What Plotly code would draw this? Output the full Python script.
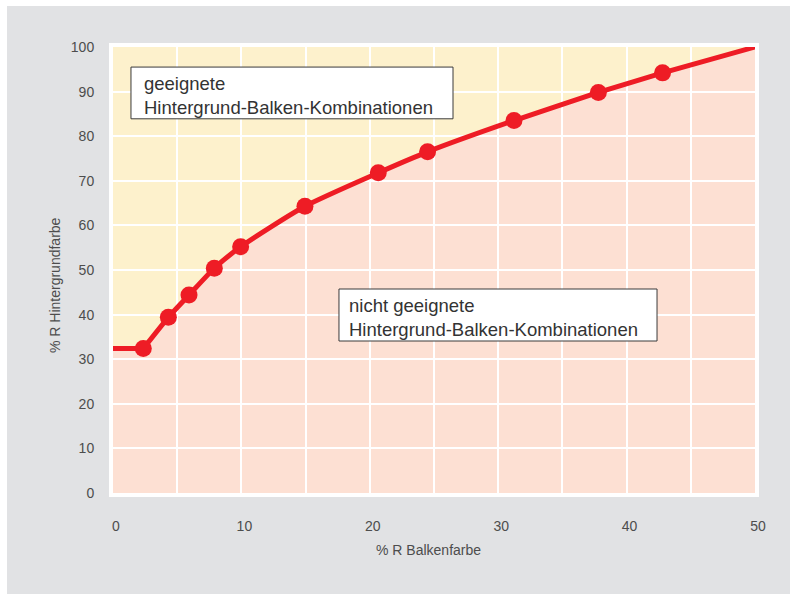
import plotly.graph_objects as go

# --- data ---
curve_x = [0, 2.36, 4.31, 5.92, 7.89, 9.94, 14.95, 20.66, 24.5, 31.23, 37.8, 42.8, 50]
curve_y = [32.4, 32.4, 39.4, 44.4, 50.4, 55.2, 64.3, 71.8, 76.5, 83.5, 89.8, 94.2, 100]
point_x = curve_x[1:-1]
point_y = curve_y[1:-1]
x_ticks = [0, 10, 20, 30, 40, 50]
y_ticks = [0, 10, 20, 30, 40, 50, 60, 70, 80, 90, 100]
label_good = "geeignete<br>Hintergrund-Balken-Kombinationen"
label_bad = "nicht geeignete<br>Hintergrund-Balken-Kombinationen"
x_title = "% R Balkenfarbe"
y_title = "% R Hintergrundfarbe"

RED = "#ee1c25"
YELLOW = "#fdf1cc"
PINK = "#fde0d3"
GRAY = "#e1e2e4"
TXT = "#4d4d4d"
FONT = "Liberation Sans, Arial, sans-serif"

# yellow region above the curve
path = "M " + " L ".join(f"{x},{y}" for x, y in zip(curve_x, curve_y))
path += f" L {curve_x[0]},{max(y_ticks)} Z"

fig = go.Figure()
# flat start segment (straight)
fig.add_trace(go.Scatter(
    x=curve_x[:2], y=curve_y[:2], mode="lines",
    line=dict(color=RED, width=5),
    hoverinfo="skip", showlegend=False))
# smooth curve through the measured points
fig.add_trace(go.Scatter(
    x=curve_x[1:], y=curve_y[1:], mode="lines",
    line=dict(color=RED, width=5, shape="spline", smoothing=0.6),
    hoverinfo="skip", showlegend=False))
fig.add_trace(go.Scatter(
    x=point_x, y=point_y, mode="markers",
    marker=dict(color=RED, size=17),
    showlegend=False))

shapes = [
    dict(type="rect", xref="paper", yref="paper", x0=-0.1651, x1=1.2, y0=-0.5, y1=1.0919,
         fillcolor=GRAY, line=dict(width=0), layer="below"),
    dict(type="rect", xref="x", yref="y", x0=0, x1=50, y0=0, y1=100,
         fillcolor=PINK, line=dict(width=0), layer="below"),
    dict(type="path", xref="x", yref="y", path=path, fillcolor=YELLOW,
         line=dict(width=0), layer="below"),
    dict(type="rect", xref="x", yref="y", x0=1.40, x1=26.48, y0=83.9, y1=95.5,
         fillcolor="white", line=dict(color="#3a3a3a", width=1), layer="above"),
    dict(type="rect", xref="x", yref="y", x0=17.6, x1=42.37, y0=34.08, y1=45.74,
         fillcolor="white", line=dict(color="#3a3a3a", width=1), layer="above"),
]

annotations = [
    dict(x=2.26, y=89.2, xref="x", yref="y", text=label_good, showarrow=False,
         xanchor="left", yanchor="middle", align="left",
         font=dict(family=FONT, size=18.5, color="#333333")),
    dict(x=18.22, y=39.46, xref="x", yref="y", text=label_bad, showarrow=False,
         xanchor="left", yanchor="middle", align="left",
         font=dict(family=FONT, size=18.5, color="#333333")),
    dict(x=0.4907, y=-0.1278, xref="paper", yref="paper", text=x_title, showarrow=False,
         xanchor="center", yanchor="middle",
         font=dict(family=FONT, size=14, color=TXT)),
    dict(x=-0.0903, y=0.4664, xref="paper", yref="paper", text=y_title, showarrow=False,
         xanchor="center", yanchor="middle", textangle=-90,
         font=dict(family=FONT, size=14, color=TXT)),
]

fig.update_layout(
    width=790, height=594,
    margin=dict(l=113, r=35, t=47, b=101),
    paper_bgcolor="white",
    plot_bgcolor=PINK,
    shapes=shapes,
    annotations=annotations,
    showlegend=False,
    font=dict(family=FONT, size=14, color=TXT),
    xaxis=dict(range=[0, 50], tickvals=x_ticks, showgrid=True,
               gridcolor="white", gridwidth=2, zeroline=False,
               showline=True, linecolor="white", linewidth=4, mirror=True,
               ticks="", ticklabelstandoff=17, ticklabelshift=3,
               tickfont=dict(family=FONT, size=14, color=TXT),
               minor=dict(dtick=5, tick0=0, showgrid=True, gridcolor="white",
                          gridwidth=2, ticks="")),
    yaxis=dict(range=[0, 100], tickvals=y_ticks, showgrid=True,
               gridcolor="white", gridwidth=2, zeroline=False,
               showline=True, linecolor="white", linewidth=4, mirror=True,
               ticks="", ticklabelstandoff=12,
               tickfont=dict(family=FONT, size=14, color=TXT)),
)

fig.write_html("out.html",
               config={"displayModeBar": False},
               post_script="document.body.style.margin='0';document.body.style.overflow='hidden';")
